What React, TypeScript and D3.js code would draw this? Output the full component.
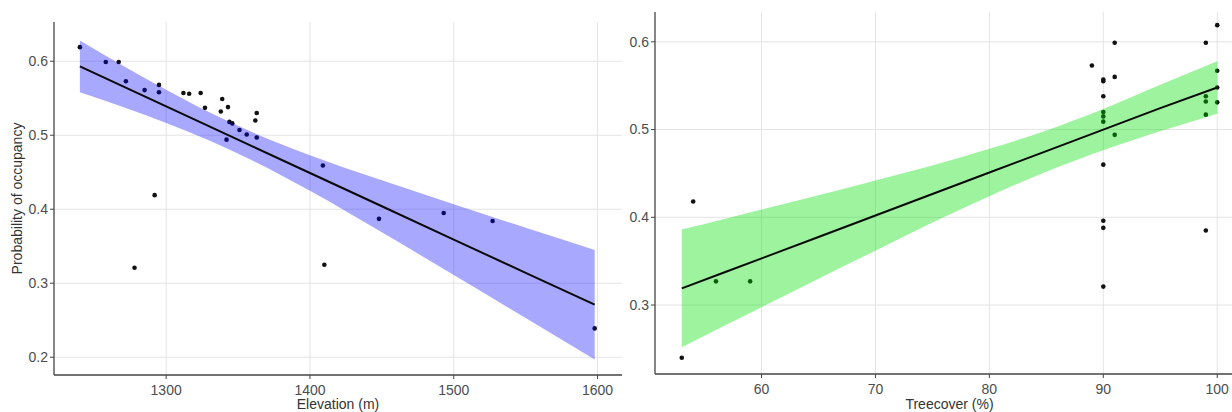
import React from "react";
import * as d3 from "d3";

// ---------- Left panel: Elevation ----------
const elevPoints: [number, number][] = [
  [1240, 0.619], [1258, 0.599], [1267, 0.599], [1272, 0.573], [1285, 0.561],
  [1295, 0.568], [1295, 0.558], [1292, 0.419], [1312, 0.557], [1316, 0.556],
  [1324, 0.557], [1327, 0.537], [1339, 0.549], [1338, 0.532], [1343, 0.538],
  [1344, 0.518], [1346, 0.516], [1351, 0.507], [1356, 0.501], [1363, 0.497],
  [1342, 0.494], [1362, 0.520], [1363, 0.530], [1409, 0.459], [1278, 0.321],
  [1448, 0.387], [1493, 0.395], [1527, 0.384], [1410, 0.325], [1598, 0.239],
];
const elevFitX = [1240, 1270, 1300, 1330, 1360, 1400, 1450, 1500, 1550, 1598];
const elevFit = [0.593, 0.566, 0.539, 0.512, 0.485, 0.449, 0.404, 0.359, 0.314, 0.271];
const elevUpper = [0.628, 0.594, 0.5615, 0.531, 0.504, 0.473, 0.439, 0.4066, 0.375, 0.345];
const elevLower = [0.558, 0.538, 0.5165, 0.493, 0.466, 0.425, 0.369, 0.311, 0.253, 0.197];
const elevXTicks = [1300, 1400, 1500, 1600];
const elevYTicks = [0.2, 0.3, 0.4, 0.5, 0.6];

// ---------- Right panel: Treecover ----------
const treePoints: [number, number][] = [
  [53, 0.240], [54, 0.418], [56, 0.327], [59, 0.327],
  [89, 0.573], [90, 0.557], [90, 0.555], [90, 0.538], [90, 0.520], [90, 0.515],
  [90, 0.509], [90, 0.460], [90, 0.396], [90, 0.388], [90, 0.321],
  [91, 0.599], [91, 0.560], [91, 0.494],
  [99, 0.599], [99, 0.538], [99, 0.532], [99, 0.517], [99, 0.385],
  [100, 0.619], [100, 0.567], [100, 0.548], [100, 0.531],
];
const treeFitX = [53, 57, 61, 65, 70, 75, 80, 85, 90, 95, 100];
const treeFit = [0.319, 0.3385, 0.358, 0.3775, 0.402, 0.4265, 0.451, 0.4755, 0.500, 0.5245, 0.548];
const treeUpper = [0.386, 0.399, 0.412, 0.425, 0.442, 0.459, 0.478, 0.499, 0.5235, 0.551, 0.578];
const treeLower = [0.252, 0.278, 0.304, 0.330, 0.362, 0.394, 0.424, 0.452, 0.4765, 0.498, 0.518];
const treeXTicks = [60, 70, 80, 90, 100];
const treeYTicks = [0.3, 0.4, 0.5, 0.6];

const FONT = "Liberation Sans, Arial, sans-serif";

type PanelProps = {
  left: number; right: number; top: number; bottom: number;
  xDomain: [number, number]; yDomain: [number, number];
  points: [number, number][];
  fitX: number[]; fit: number[]; upper: number[]; lower: number[];
  xTicks: number[]; yTicks: number[];
  xTitle: string; yTitle?: string;
  fill: string; fillOpacity: number;
};

function Panel(p: PanelProps) {
  const x = d3.scaleLinear().domain(p.xDomain).range([p.left, p.right]);
  const y = d3.scaleLinear().domain(p.yDomain).range([p.bottom, p.top]);
  const band = p.fitX.map((v, i) => ({ x: v, lo: p.lower[i], hi: p.upper[i], f: p.fit[i] }));
  const area = d3.area<typeof band[0]>().x(d => x(d.x)).y0(d => y(d.lo)).y1(d => y(d.hi)).curve(d3.curveMonotoneX);
  const line = d3.line<typeof band[0]>().x(d => x(d.x)).y(d => y(d.f));
  const yFmt = d3.format(".1f");
  const gridColor = "#e4e4e4";
  return (
    <g>
      {p.xTicks.map(t => (
        <line key={"gx" + t} x1={x(t)} x2={x(t)} y1={p.top} y2={p.bottom} stroke={gridColor} strokeWidth={1} />
      ))}
      {p.yTicks.map(t => (
        <line key={"gy" + t} x1={p.left} x2={p.right} y1={y(t)} y2={y(t)} stroke={gridColor} strokeWidth={1} />
      ))}
      {p.points.map((d, i) => (
        <circle key={"pt" + i} cx={x(d[0])} cy={y(d[1])} r={2.3} fill="#111" />
      ))}
      <path d={area(band) || ""} fill={p.fill} fillOpacity={p.fillOpacity} />
      <path d={line(band) || ""} fill="none" stroke="#0a0a0a" strokeWidth={2} />
      <line x1={p.left} x2={p.left} y1={p.top} y2={p.bottom} stroke="#444" strokeWidth={1.3} />
      <line x1={p.left} x2={p.right} y1={p.bottom} y2={p.bottom} stroke="#444" strokeWidth={1.3} />
      {p.yTicks.map(t => (
        <g key={"ty" + t}>
          <line x1={p.left - 4} x2={p.left} y1={y(t)} y2={y(t)} stroke="#444" strokeWidth={1} />
          <text x={p.left - 6} y={y(t)} dy="0.35em" textAnchor="end" fontSize={14} fill="#4d4d4d" fontFamily={FONT}>
            {yFmt(t)}
          </text>
        </g>
      ))}
      {p.xTicks.map(t => (
        <g key={"tx" + t}>
          <line x1={x(t)} x2={x(t)} y1={p.bottom} y2={p.bottom + 4} stroke="#444" strokeWidth={1} />
          <text x={x(t)} y={p.bottom + 20} textAnchor="middle" fontSize={14} fill="#4d4d4d" fontFamily={FONT}>
            {String(t)}
          </text>
        </g>
      ))}
      <text x={(p.left + p.right) / 2} y={409} textAnchor="middle" fontSize={14} fill="#333" fontFamily={FONT}>
        {p.xTitle}
      </text>
      {p.yTitle && (
        <text transform={`translate(22,${(p.top + p.bottom) / 2}) rotate(-90)`} textAnchor="middle" fontSize={14} fill="#333" fontFamily={FONT}>
          {p.yTitle}
        </text>
      )}
    </g>
  );
}

export default function App() {
  return (
    <svg width={1232} height={412} style={{ position: "absolute", left: 0, top: 0, background: "#fff" }}>
      <rect x={0} y={0} width={1232} height={412} fill="#fff" />
      <Panel
        left={54} right={622} top={22} bottom={375}
        xDomain={[1222, 1617]} yDomain={[0.176, 0.653]}
        points={elevPoints} fitX={elevFitX} fit={elevFit} upper={elevUpper} lower={elevLower}
        xTicks={elevXTicks} yTicks={elevYTicks}
        xTitle="Elevation (m)" yTitle="Probability of occupancy"
        fill="#0000ff" fillOpacity={0.34}
      />
      <Panel
        left={655} right={1244} top={12} bottom={374}
        xDomain={[50.65, 102.35]} yDomain={[0.2214, 0.634]}
        points={treePoints} fitX={treeFitX} fit={treeFit} upper={treeUpper} lower={treeLower}
        xTicks={treeXTicks} yTicks={treeYTicks}
        xTitle="Treecover (%)"
        fill="#00e000" fillOpacity={0.38}
      />
    </svg>
  );
}
